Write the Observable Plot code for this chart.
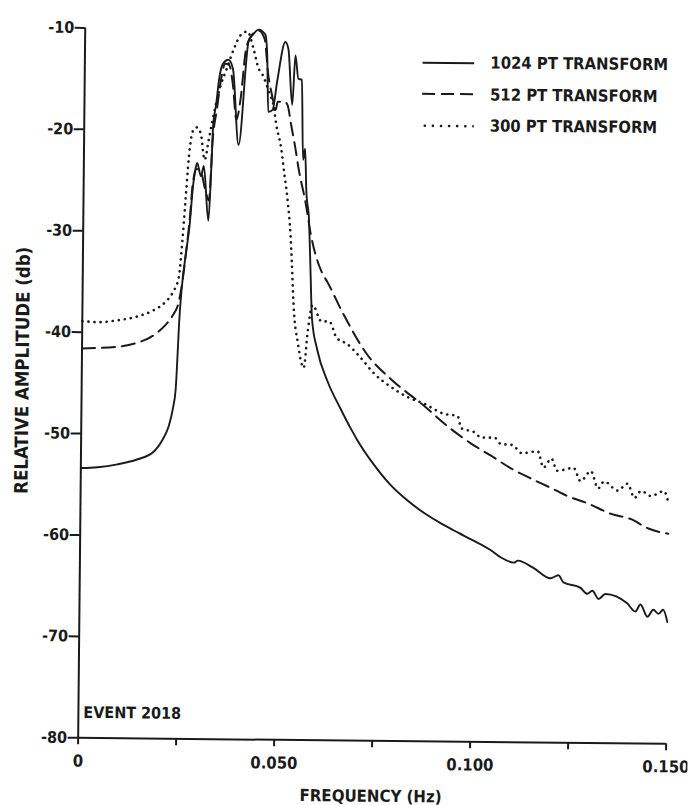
<!DOCTYPE html>
<html>
<head>
<meta charset="utf-8">
<script src="https://cdn.jsdelivr.net/npm/d3@7"></script>
<script src="https://cdn.jsdelivr.net/npm/@observablehq/plot@0.6"></script>
<style>
  html, body { margin: 0; padding: 0; background: #fff; overflow: hidden; }
  #wrap { position: relative; width: 691px; height: 805px; transform: rotate(0.57deg); transform-origin: 345.5px 402.5px; }
  #legend { position: absolute; left: 419px; top: 46px; font-family: "DejaVu Sans Condensed", "DejaVu Sans", sans-serif; font-weight: bold; font-size: 16.5px; color: #1a1a1a; }
  .row { display: flex; align-items: center; height: 31.5px; }
  .row svg { width: 52px; height: 8px; margin-right: 16px; }
</style>
</head>
<body>
<div id="wrap"><div id="chart"></div><div id="legend"></div></div>
<script>
// ---- data (frequency in Hz, relative amplitude in db) ----
const pts1024 = [
  [0,-53.4],[0.0043,-53.3],[0.0093,-53.0],[0.0143,-52.5],[0.0183,-51.8],[0.0208,-50.5],[0.0223,-49.2],
  [0.0233,-47.5],[0.0240,-45.5],[0.0244,-42],[0.0247,-39],[0.0253,-35.5],[0.0262,-32.3],[0.0271,-29.5],
  [0.0279,-25.5],[0.0284,-24],[0.0289,-23.2],[0.0299,-24.5],[0.0306,-23.5],[0.0319,-28.9],[0.0325,-23.9],
  [0.0329,-19.4],[0.0336,-17.4],[0.0343,-14.9],[0.0351,-13.5],[0.0366,-13.0],[0.0378,-13.9],[0.0394,-21.4],
  [0.0417,-11.2],[0.0428,-10.5],[0.0443,-10.0],[0.0460,-10.5],[0.0465,-12.5],[0.0469,-18.1],[0.0480,-17.9],
  [0.0491,-15.1],[0.0511,-11.2],[0.0519,-11.9],[0.0530,-17.4],[0.0537,-12.5],[0.0545,-14.8],[0.0554,-14.9],
  [0.0559,-22.8],[0.0564,-21.7],[0.0568,-25.7],[0.0576,-28.9],[0.0580,-32.8],[0.0586,-38.5],[0.0600,-41.5],
  [0.0627,-44.6],[0.0661,-47.3],[0.0687,-49.2],[0.0705,-50.4],[0.0746,-52.7],[0.0789,-54.7],[0.0835,-56.3],
  [0.0877,-57.5],[0.0920,-58.5],[0.0964,-59.4],[0.1005,-60.2],[0.1048,-61.1],[0.1074,-61.8],[0.1107,-62.3],
  [0.1117,-62.1],[0.1157,-62.8],[0.1201,-63.8],[0.1221,-63.5],[0.1234,-64.2],[0.1277,-64.7],[0.1295,-65.3],
  [0.1308,-65.0],[0.1324,-65.8],[0.1341,-65.3],[0.1397,-66.2],[0.1418,-67.0],[0.1431,-66.3],[0.1449,-67.5],
  [0.1464,-66.8],[0.1477,-67.2],[0.1489,-66.8],[0.1500,-68.0]
];
const pts512 = [
  [0,-41.6],[0.009,-41.4],[0.014,-41.0],[0.018,-40.3],[0.021,-39.3],[0.023,-38.3],[0.0245,-37],[0.0254,-35],
  [0.0263,-32],[0.0272,-28.5],[0.0279,-25],[0.0288,-23.8],[0.0298,-24.0],[0.0310,-25.8],[0.0320,-26.9],
  [0.0328,-20.9],[0.0338,-17.9],[0.0348,-14.9],[0.0358,-13.4],[0.0368,-13.5],[0.0378,-15.4],[0.0388,-18.9],
  [0.0398,-16.9],[0.0411,-11.9],[0.0428,-10.4],[0.0443,-10.1],[0.0458,-10.9],[0.0468,-14.4],[0.0478,-16.4],
  [0.0488,-17.9],[0.0493,-17.1],[0.0511,-17.1],[0.0518,-17.4],[0.0528,-19.4],[0.0538,-21.4],[0.0549,-23.9],
  [0.0566,-26.9],[0.0581,-30.2],[0.0609,-33.8],[0.0624,-34.8],[0.0665,-37.9],[0.0727,-41.9],[0.0794,-44.5],
  [0.0873,-46.9],[0.0937,-49.0],[0.0995,-50.6],[0.1047,-51.8],[0.1097,-53.0],[0.1149,-54.0],[0.1200,-54.9],
  [0.1243,-55.7],[0.1295,-56.4],[0.1354,-57.4],[0.1405,-57.9],[0.1449,-58.8],[0.1500,-59.3]
];
const pts300 = [
  [0,-38.9],[0.004,-39.0],[0.009,-38.8],[0.014,-38.4],[0.018,-37.8],[0.021,-37.0],[0.023,-36.0],[0.0245,-34.5],
  [0.0253,-31],[0.0260,-27],[0.0268,-22.5],[0.0278,-20.0],[0.0288,-19.7],[0.0298,-20.4],[0.0308,-22.9],
  [0.0318,-20.9],[0.0328,-18.8],[0.0345,-15.8],[0.0363,-13.8],[0.0380,-11.9],[0.0398,-10.5],[0.0414,-10.2],
  [0.0430,-11.9],[0.0443,-13.8],[0.0453,-14.4],[0.0473,-16.4],[0.0482,-17.4],[0.0490,-19.4],[0.0503,-21.7],
  [0.0511,-24.0],[0.0521,-26.9],[0.0529,-30.2],[0.0533,-32.9],[0.0538,-36.8],[0.0551,-41.0],[0.0566,-43.3],
  [0.0575,-39.8],[0.0587,-37.1],[0.0610,-38.7],[0.0630,-38.7],[0.0649,-40.3],[0.0676,-40.9],[0.0710,-42.2],
  [0.0746,-43.8],[0.0789,-45.1],[0.0833,-46.1],[0.0873,-46.7],[0.0925,-47.7],[0.0960,-47.9],[0.0969,-49.1],
  [0.1004,-49.5],[0.1020,-50.0],[0.1055,-50.0],[0.1070,-50.6],[0.1100,-50.7],[0.1125,-51.5],[0.1165,-51.3],
  [0.1180,-52.9],[0.1200,-52.0],[0.1215,-53.2],[0.1257,-52.9],[0.1275,-54.2],[0.1301,-53.2],[0.1320,-54.9],
  [0.1335,-54.2],[0.1370,-55.1],[0.1395,-54.4],[0.1413,-55.8],[0.1430,-55.1],[0.1455,-55.6],[0.1488,-55.1],
  [0.1500,-56.3]
];
const yTicks = [-10, -20, -30, -40, -50, -60, -70, -80];
const xTicks = [0, 0.025, 0.05, 0.075, 0.1, 0.125, 0.15];
const xTickLabels = ["0", "", "0.050", "", "0.100", "", "0.150"];
const seriesNames = ["1024 PT TRANSFORM", "512 PT TRANSFORM", "300 PT TRANSFORM"];
const yLabel = "RELATIVE AMPLITUDE (db)";
const xLabel = "FREQUENCY (Hz)";
const note = "EVENT 2018";

const ink = "#1a1a1a";
const font = "DejaVu Sans Condensed, DejaVu Sans, sans-serif";
const toRows = (pts) => pts.map(([f, db]) => ({f, db}));

const chart = Plot.plot({
  width: 691,
  height: 805,
  marginLeft: 81,
  marginRight: 22,
  marginTop: 30,
  marginBottom: 65,
  x: {domain: [0, 0.15]},
  y: {domain: [-80, -10]},
  style: {fontFamily: font, fontWeight: "bold", color: ink, background: "#fff", fontSize: "16px"},
  marks: [
    Plot.ruleX([0], {stroke: ink, strokeWidth: 2}),
    Plot.ruleY([-80], {stroke: ink, strokeWidth: 2}),
    Plot.axisY({ticks: yTicks, tickSize: 10, tickPadding: 1, strokeWidth: 2, tickFormat: d => String(d), label: null, fontSize: 16}),
    Plot.axisX({ticks: xTicks, tickSize: 7, tickPadding: 10, strokeWidth: 2,
      tickFormat: d => xTickLabels[xTicks.findIndex(t => Math.abs(t - d) < 1e-9)], label: null, fontSize: 16.5}),
    Plot.line(toRows(pts1024), {x: "f", y: "db", stroke: ink, strokeWidth: 1.9, strokeLinejoin: "round", curve: "monotone-x"}),
    Plot.line(toRows(pts512), {x: "f", y: "db", stroke: ink, strokeWidth: 2, strokeDasharray: "13,7", curve: "monotone-x"}),
    Plot.line(toRows(pts300), {x: "f", y: "db", stroke: ink, strokeWidth: 2.6, strokeDasharray: "0.1,6", strokeLinecap: "round", curve: "monotone-x"}),
    Plot.text([yLabel], {frameAnchor: "left", textAnchor: "middle", rotate: -90, dx: -59, dy: -12, fontSize: 18.5, fontWeight: "bold", fill: ink}),
    Plot.text([xLabel], {frameAnchor: "bottom", textAnchor: "middle", dx: -1, dy: 61, fontSize: 16.7, fontWeight: "bold", fill: ink}),
    Plot.text([note], {frameAnchor: "bottom-left", textAnchor: "start", dx: 5, dy: -20, fontSize: 16, fontWeight: "bold", fill: ink})
  ]
});
document.getElementById("chart").appendChild(chart);

// legend (inside the plotting area, top right)
const legend = d3.select("#legend");
seriesNames.forEach((name, i) => {
  const row = legend.append("div").attr("class", "row");
  const s = row.append("svg").attr("viewBox", "0 0 52 8");
  s.append("line").attr("x1", i === 2 ? 3 : 0).attr("x2", 52).attr("y1", 4).attr("y2", 4)
    .attr("stroke", ink).attr("stroke-width", i === 2 ? 2.6 : 2)
    .attr("stroke-linecap", i === 2 ? "round" : "butt")
    .attr("stroke-dasharray", i === 0 ? null : (i === 1 ? "13,6" : "0.1,8"));
  row.append("span").text(name);
});
</script>
</body>
</html>
